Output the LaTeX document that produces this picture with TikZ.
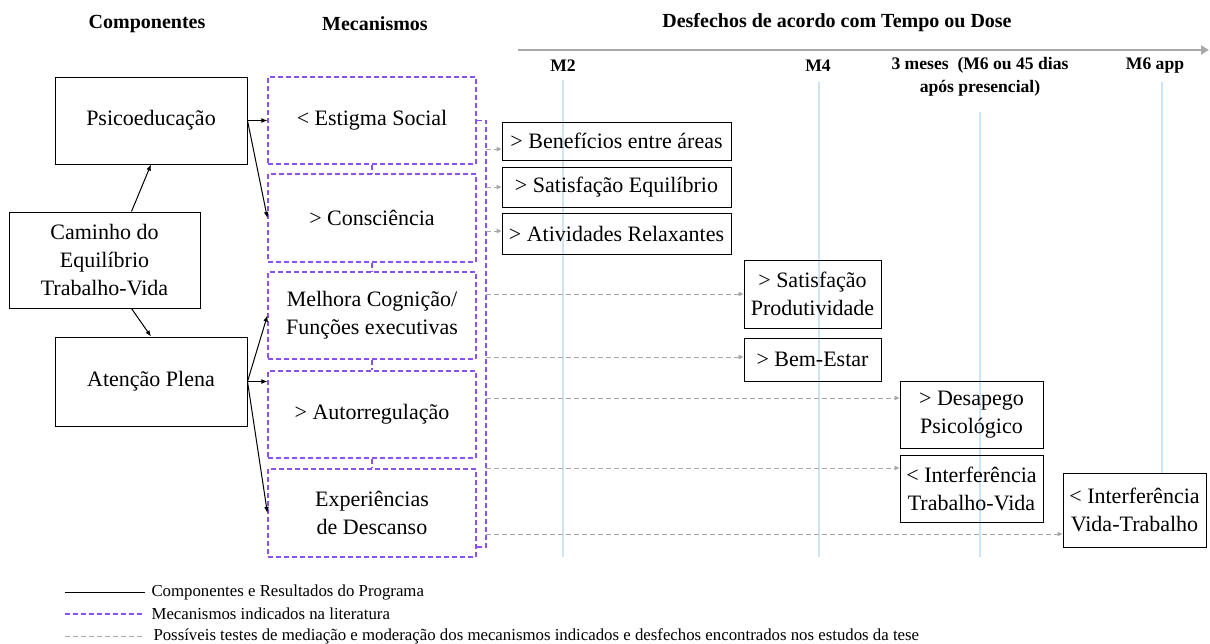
\documentclass[tikz,border=0pt]{standalone}
\usepackage{fontspec}
\setmainfont{Liberation Serif}
\usetikzlibrary{arrows.meta}
\definecolor{roxo}{RGB}{138,80,240}
\definecolor{cinza}{RGB}{168,168,168}
\definecolor{azulclaro}{RGB}{204,228,247}
\tikzset{
  titulo/.style={font=\fontsize{10}{12}\selectfont\bfseries},
  marcotxt/.style={font=\fontsize{8.8}{11.5}\selectfont\bfseries, align=center},
  marco/.style={azulclaro, line width=0.6pt},
  tempo/.style={cinza, line width=1.2pt, -{Triangle[length=4pt,width=4.5pt]}},
  comp/.style={draw, line width=0.5pt, align=center, inner sep=1pt,
    font=\fontsize{11}{14}\selectfont},
  mecan/.style={draw=roxo, dash pattern=on 2.5pt off 1.5pt, line width=0.6pt,
    align=center, inner sep=1pt, minimum width=104pt,
    font=\fontsize{11}{14}\selectfont},
  desf/.style={draw, line width=0.5pt, align=center, inner sep=1pt,
    font=\fontsize{11}{14}\selectfont},
  seta/.style={line width=0.5pt, -{Latex[length=3pt,width=2.4pt]}},
  mecline/.style={roxo, dash pattern=on 2.5pt off 1.5pt, line width=0.6pt},
  teste/.style={cinza, dash pattern=on 2.5pt off 1.5pt, line width=0.5pt,
    -{Triangle[length=2.5pt,width=2.2pt]}},
  legtxt/.style={right, inner sep=3pt, text=black, font=\fontsize{8.4}{10}\selectfont}
}
\begin{document}
\begin{tikzpicture}[x=0.5pt,y=-0.5pt]
  \useasboundingbox (0,0) rectangle (1210,643);
  % titulos
  \node[titulo] (tcomp) at (147,24) {Componentes};
  \node[titulo] (tmec) at (375,24) {Mecanismos};
  \node[titulo] (tdesf) at (837,23) {Desfechos de acordo com Tempo ou Dose};
  % linha do tempo
  \coordinate (T0) at (518,50);
  \coordinate (T1) at (1209,50);
  \draw[tempo] (T0) -- (T1);
  \foreach \x/\a/\b in {563/80/557, 819/82/557, 980/112/557, 1162/82/473}{
    \draw[marco] (\x,\a) -- (\x,\b);
  }
  \node[marcotxt] (m2) at (563,66) {M2};
  \node[marcotxt] (m4) at (818,66) {M4};
  \node[marcotxt] (m3m) at (980,76.5) {3 meses\ \ (M6 ou 45 dias\\após presencial)};
  \node[marcotxt] (m6) at (1155,66) {M6 app};
  % componentes
  \node[comp, minimum width=96pt, minimum height=43.5pt] (psico) at (151,120.5) {Psicoeducação};
  \node[comp, minimum width=95.5pt, minimum height=48pt] (caminho) at (104.5,260) {Caminho do\\Equilíbrio\\Trabalho-Vida};
  \node[comp, minimum width=96pt, minimum height=44.5pt] (atencao) at (151,381.5) {Atenção Plena};
  % mecanismos
  \node[mecan, minimum height=43.5pt] (estigma) at (372,120.5) {< Estigma Social};
  \node[mecan, minimum height=44pt] (consc) at (372,218) {> Consciência};
  \node[mecan, minimum height=43.5pt] (cogn) at (372,315.5) {Melhora Cognição/\\Funções executivas};
  \node[mecan, minimum height=43.5pt] (autoreg) at (372,414.5) {> Autorregulação};
  \node[mecan, minimum height=44pt] (descanso) at (372,513) {Experiências\\de Descanso};
  % desfechos
  \node[desf, minimum width=114.5pt, minimum height=19pt] (benef) at (616.5,141) {> Benefícios entre áreas};
  \node[desf, minimum width=114.5pt, minimum height=20pt] (sateq) at (616.5,187) {> Satisfação Equilíbrio};
  \node[desf, minimum width=114.5pt, minimum height=20.5pt] (ativ) at (616.5,233.5) {> Atividades Relaxantes};
  \node[desf, minimum width=68.5pt, minimum height=34pt] (satprod) at (812.5,294) {> Satisfação\\Produtividade};
  \node[desf, minimum width=68.5pt, minimum height=21.5pt] (bemest) at (812.5,359.5) {> Bem-Estar};
  \node[desf, minimum width=71.5pt, minimum height=33.5pt] (desap) at (971.5,414.5) {> Desapego\\Psicológico};
  \node[desf, minimum width=71.5pt, minimum height=33.5pt] (intTV) at (971.5,488.5) {< Interferência\\Trabalho-Vida};
  \node[desf, minimum width=71.5pt, minimum height=37pt] (intVT) at (1134.5,510) {< Interferência\\Vida-Trabalho};
  % setas do programa
  \draw[seta] ([xshift=13.5pt]caminho.north) -- (psico.south);
  \draw[seta] ([xshift=13.5pt]caminho.south) -- (atencao.north);
  \draw[seta] (psico.east) -- (estigma.west);
  \draw[seta] (psico.east) -- (consc.west);
  \draw[seta] (atencao.east) -- (cogn.west);
  \draw[seta] (atencao.east) -- (atencao.east -| autoreg.west);
  \draw[seta] (atencao.east) -- (descanso.west);
  % ligacoes entre mecanismos
  \foreach \a/\b in {estigma/consc, consc/cogn, cogn/autoreg, autoreg/descanso}{
    \draw[mecline] (\a.south) -- (\b.north);
  }
  \coordinate (C1) at (486,120.5);
  \coordinate (C2) at (486,547);
  \draw[mecline] (estigma.east) -- (C1) -- (C2) -- (C2 -| descanso.east);
  % testes de mediacao
  \foreach \y/\n in {149/benef, 187/sateq, 231/ativ, 294/satprod, 357/bemest,
                     398/desap, 468/intTV, 534/intVT}{
    \coordinate (D\n) at (486,\y);
    \draw[teste] (D\n) -- (D\n -| \n.west);
  }
  % legenda
  \coordinate (L1) at (65,592);
  \coordinate (L2) at (65,614);
  \coordinate (L3) at (65,636);
  \draw[line width=0.5pt] (L1) -- ++(80,0) node[legtxt] {Componentes e Resultados do Programa};
  \draw[mecline] (L2) -- ++(80,0) node[legtxt] {Mecanismos indicados na literatura};
  \draw[cinza, dash pattern=on 2.5pt off 1.5pt, line width=0.5pt] (L3) -- ++(80,0)
    node[legtxt, inner sep=4pt] {Possíveis testes de mediação e moderação dos mecanismos indicados e desfechos encontrados nos estudos da tese};
\end{tikzpicture}
\end{document}
